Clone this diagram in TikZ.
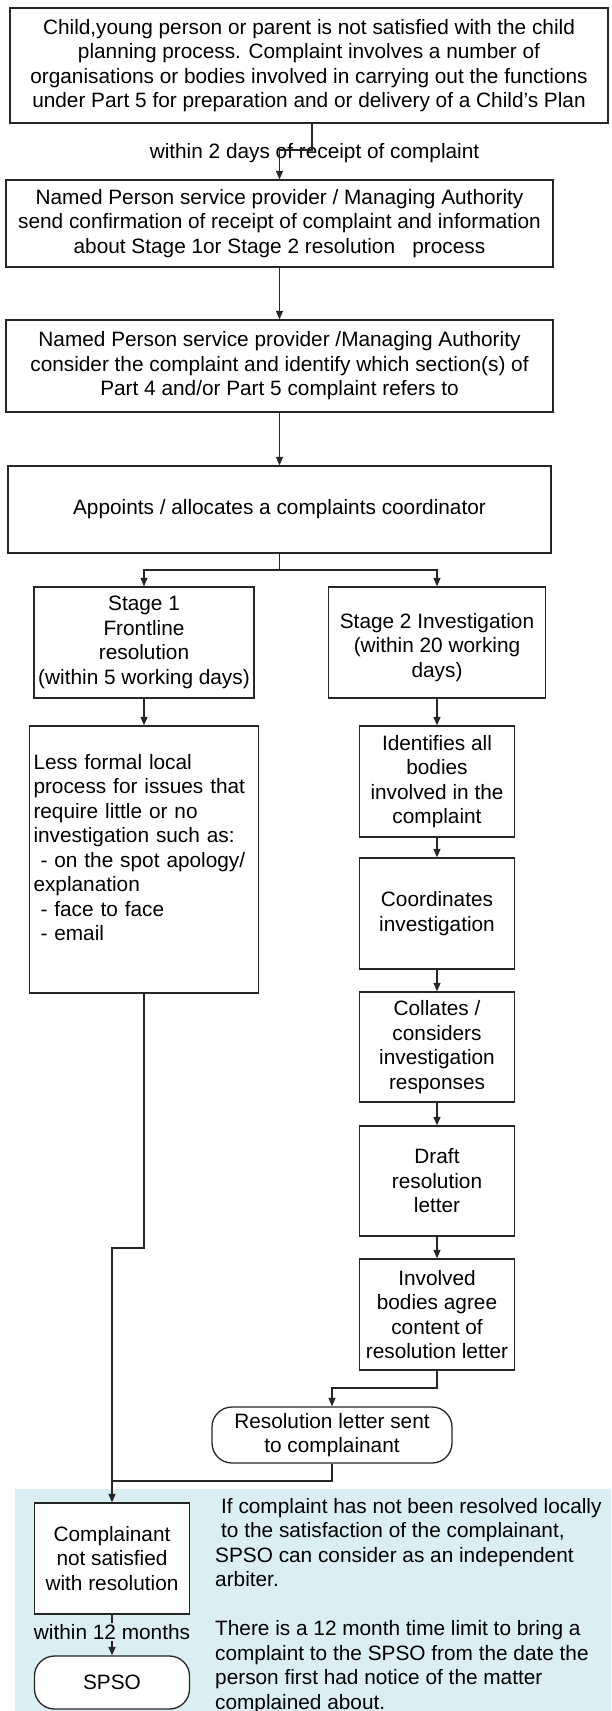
\documentclass[tikz,border=0pt]{standalone}
\usepackage{fontspec}
\setmainfont{Liberation Sans}
\usetikzlibrary{arrows.meta}
\definecolor{panelblue}{RGB}{218,238,243}

\begin{document}
\begin{tikzpicture}[x=1pt,y=-1pt,font=\fontsize{20.8}{24.5}\selectfont]
\useasboundingbox (0,0) rectangle (611,1711);
\fill[panelblue] (15,1489) rectangle (611,1711);

\begin{scope}[every node/.style={draw=black!85,line width=1.3pt,fill=white,align=center,inner sep=2pt}]
    \node[minimum width=598pt,minimum height=115pt] (top) at (309,65.5)
        {Child,young person or parent is not satisfied with the child\\planning process. Complaint involves a number of\\organisations or bodies involved in carrying out the functions\\under Part 5 for preparation and or delivery of a Child's Plan};
    \node[minimum width=547pt,minimum height=87pt] (confirm) at (279.5,223.5)
        {Named Person service provider / Managing Authority\\send confirmation of receipt of complaint and information\\about Stage 1or Stage 2 resolution\ \ \ process};
    \node[minimum width=547pt,minimum height=92pt] (consider) at (279.5,366)
        {Named Person service provider /Managing Authority\\consider the complaint and identify which section(s) of\\Part 4 and/or Part 5 complaint refers to};
    \node[minimum width=543pt,minimum height=87pt] (appoint) at (279.5,509.5)
        {Appoints / allocates a complaints coordinator};
    \node[minimum width=220pt,minimum height=111pt] (stage1) at (144,642.5)
        {Stage 1\\Frontline\\resolution\\(within 5 working days)};
    \node[minimum width=217pt,minimum height=111pt] (stage2) at (437,642.5)
        {~\\Stage 2 Investigation\\(within 20 working\\days)};
    \node[minimum height=267pt,text width=221pt,inner sep=4pt,align=left] (informal) at (144,859.5)
        {Less formal local\\process for issues that\\require little or no\\investigation such as:\\\hspace*{7pt}- on the spot apology/\\explanation\\\hspace*{7pt}- face to face\\\hspace*{7pt}- email\\~};
    \node[minimum width=155pt,minimum height=111pt] (identify) at (437,781.5)
        {Identifies all\\bodies\\involved in the\\complaint};
    \node[minimum width=155pt,minimum height=111pt] (coord) at (437,913.5)
        {Coordinates\\investigation};
    \node[minimum width=155pt,minimum height=110pt] (collate) at (437,1047)
        {Collates /\\considers\\investigation\\responses};
    \node[minimum width=155pt,minimum height=110pt] (draft) at (437,1181)
        {Draft\\resolution\\letter};
    \node[minimum width=155pt,minimum height=111pt] (agree) at (437,1314.5)
        {Involved\\bodies agree\\content of\\resolution letter};
    \node[minimum width=240pt,minimum height=56pt,rounded corners=20pt] (sent) at (332,1435)
        {Resolution letter sent\\to complainant};
    \node[minimum width=155pt,minimum height=111pt] (notsat) at (112,1558.5)
        {Complainant\\not satisfied\\with resolution};
    \node[minimum width=155pt,minimum height=53pt,rounded corners=20pt] (spso) at (112,1682.5)
        {SPSO};
\end{scope}

\node (within) at (314.5,153) {within 2 days of receipt of complaint};
\node[align=left,anchor=north west,inner sep=0pt] (note) at (215,1498)
    {\hspace*{6pt}If complaint has not been resolved locally\\
     \hspace*{6pt}to the satisfaction of the complainant,\\
     SPSO can consider as an independent\\
     arbiter.\\[24.5pt]
     There is a 12 month time limit to bring a\\
     complaint to the SPSO from the date the\\
     person first had notice of the matter\\
     complained about.};

\coordinate (k1) at (312,150);
\coordinate (split) at (279.5,570);
\coordinate (k2) at (437,1388);
\coordinate (k3) at (112,1248);
\coordinate (k4) at (112,1481);

\begin{scope}[>={Triangle[width=7pt,length=8.5pt]},
              line width=1.3pt,draw=black!85,
              every edge/.style={draw=black!85,line width=1.3pt}]
    \draw[->] (top.south -| k1) -- (k1) -| (confirm);
    \path [->] (confirm) edge (consider);
    \path [->] (consider) edge (appoint);
    \draw (appoint) -- (split);
    \draw[->] (split) -| (stage1);
    \draw[->] (split) -| (stage2);
    \path [->] (stage1) edge (informal);
    \path [->] (stage2) edge (identify);
    \path [->] (identify) edge (coord);
    \path [->] (coord) edge (collate);
    \path [->] (collate) edge (draft);
    \path [->] (draft) edge (agree);
    \draw[->] (agree) -- (k2) -| (sent);
    \draw (sent) |- (k4);
    \draw[->] (informal) |- (k3) -- (notsat);
    \draw[->] (notsat) -- (spso);
\end{scope}
\node[fill=panelblue,inner sep=1pt] (months) at (112,1632) {within 12 months};
\end{tikzpicture}
\end{document}
